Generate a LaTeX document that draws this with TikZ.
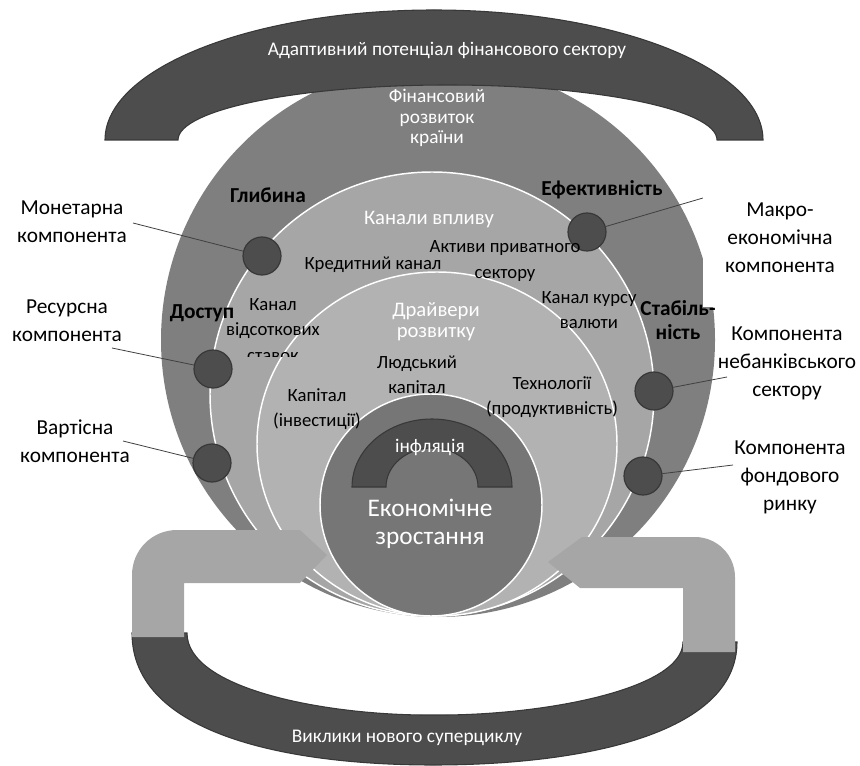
\documentclass[tikz,border=0pt]{standalone}
\usepackage{fontspec}
\setmainfont{Carlito}
\usetikzlibrary{shapes.geometric}

\definecolor{outerring}{HTML}{7F7F7F}
\definecolor{midring}{HTML}{A6A6A6}
\definecolor{innerring}{HTML}{B2B2B2}
\definecolor{corering}{HTML}{767676}
\definecolor{darkband}{HTML}{4D4D4D}
\definecolor{darkedge}{HTML}{383838}
\definecolor{pipegray}{HTML}{A6A6A6}

\begin{document}
\begin{tikzpicture}[x=0.75pt, y=-0.75pt,
    ring/.style={circle, inner sep=0pt},
    band/.style={fill=darkband, draw=darkedge, line width=0.8pt},
    comp/.style={circle, fill=darkband, draw=darkedge, line width=0.9pt, minimum size=28.5pt, inner sep=0pt},
    lead/.style={draw=black!75, line width=0.6pt},
    side/.style={align=center, inner sep=0pt, font=\fontsize{16}{21}\selectfont},
    pillar/.style={align=center, inner sep=0pt, font=\fontsize{16}{18}\selectfont\bfseries},
    chan/.style={align=center, inner sep=0pt, font=\fontsize{14}{19}\selectfont},
    head/.style={align=center, inner sep=0pt, text=white, font=\fontsize{15.5}{16}\selectfont},
    onband/.style={align=center, inner sep=0pt, text=white, font=\fontsize{14.5}{15.5}\selectfont},
    pipe/.style={fill=pipegray}]

    \useasboundingbox (0,0) rectangle (860,766);

    % nested rings of the model
    \node[ring, fill=outerring, minimum size=415.5pt] (finring) at (438,340) {};
    \draw[band] (105,140) arc[start angle=180, end angle=360, x radius=329, y radius=130]
        -- (717,140) arc[start angle=0, end angle=-180, x radius=269.5, y radius=55] -- cycle;
    \node[ring, fill=midring, draw=white, line width=1.1pt, minimum size=333pt] (chanring) at (432,394) {};
    \node[ellipse, inner sep=0pt, fill=innerring, draw=white, line width=1.1pt,
        minimum width=270pt, minimum height=258pt] (drvring) at (437,444) {};
    \node[ring, fill=corering, draw=white, line width=1.1pt, minimum size=166.5pt] (growthring) at (431,505) {};
    \draw[band] (352,487) arc[start angle=180, end angle=360, x radius=80, y radius=68]
        -- (478,487) arc[start angle=0, end angle=-180, x radius=46, y radius=39] -- cycle;

    % components sitting on the channel ring
    \node[comp] (mondot) at (262,256) {};
    \node[comp] (resdot) at (213,369) {};
    \node[comp] (valdot) at (212,463) {};
    \node[comp] (macdot) at (587,232) {};
    \node[comp] (nbdot) at (654,391) {};
    \node[comp] (stkdot) at (643,476) {};

    \coordinate (monend) at (133,223);
    \coordinate (resend) at (112,348);
    \coordinate (valend) at (123,441);
    \coordinate (macend) at (703,198);
    \coordinate (nbend) at (727,377);
    \coordinate (stkend) at (733,465);
    \draw[lead] (monend) -- (mondot);
    \draw[lead] (resend) -- (resdot);
    \draw[lead] (valend) -- (valdot);
    \draw[lead] (macdot) -- (macend);
    \draw[lead] (nbdot) -- (nbend);
    \draw[lead] (stkdot) -- (stkend);

    \node[side] (monlbl) at (72,222) {Монетарна\\компонента};
    \node[side] (reslbl) at (67,321) {Ресурсна\\компонента};
    \node[side] (vallbl) at (75,441) {Вартісна\\компонента};
    \node[side, fill=white, minimum width=115.5pt, minimum height=103.5pt] (maclbl) at (780,238) {Макро-\\економічна\\компонента};
    \node[side] (nblbl) at (787,363) {Компонента\\небанківського\\сектору};
    \node[side] (stklbl) at (790,477) {Компонента\\фондового\\ринку};

    % cycle at the bottom
    \draw[band] (132,633) .. controls (132,735) and (290,765) .. (433,765)
        .. controls (580,765) and (737,735) .. (737,642) -- (683,642)
        .. controls (683,690) and (540,716) .. (434,715)
        .. controls (330,716) and (187,690) .. (187,633) -- cycle;
    \fill[pipe] (132,637) -- (132,575) .. controls (132,550) and (152,530) .. (177,530)
        -- (300,530) -- (327,555) -- (300,583) -- (184,583) -- (184,637) -- cycle;
    \fill[pipe] (735,652) -- (735,577) .. controls (735,555) and (717,537) .. (695,537)
        -- (582,537) -- (548,562) -- (580,588) -- (683,588) -- (683,652) -- cycle;

    % texts
    \node[onband] (adapt) at (447,50) {Адаптивний потенціал фінансового сектору};
    \node[onband] (fincountry) at (437,118) {Фінансовий\\розвиток\\країни};
    \node[pillar] (depth) at (268,195) {Глибина};
    \node[pillar] (efficiency) at (602,190) {Ефективність};
    \node[pillar] (access) at (202,313) {Доступ};
    \node[pillar] (stability) at (678,320) {Стабіль-\\ність};

    \node[head] (channels) at (429,220) {Канали впливу};
    \node[chan] (credit) at (373,265) {Кредитний канал};
    \node[chan] (private) at (505,261) {Активи приватного\\сектору};
    \node[chan] (fxrate) at (589,310) {Канал курсу\\валюти};
    \begin{scope}
        \clip (220,290) rectangle (330,357);
        \node[chan] (rate) at (273,330) {Канал\\відсоткових\\ставок};
    \end{scope}

    \node[head] (drivers) at (436,322) {Драйвери\\розвитку};
    \node[chan] (human) at (417,375) {Людський\\капітал};
    \node[chan] (capital) at (317,409) {Капітал\\(інвестиції)};
    \node[chan] (tech) at (552,397) {Технології\\(продуктивність)};

    \node[onband] (inflation) at (430,447) {інфляція};
    \node[align=center, inner sep=0pt, text=white, font=\fontsize{19}{21}\selectfont] (growth) at (430,524) {Економічне\\зростання};
    \node[onband] (challenges) at (407,738) {Виклики нового суперциклу};
\end{tikzpicture}
\end{document}
